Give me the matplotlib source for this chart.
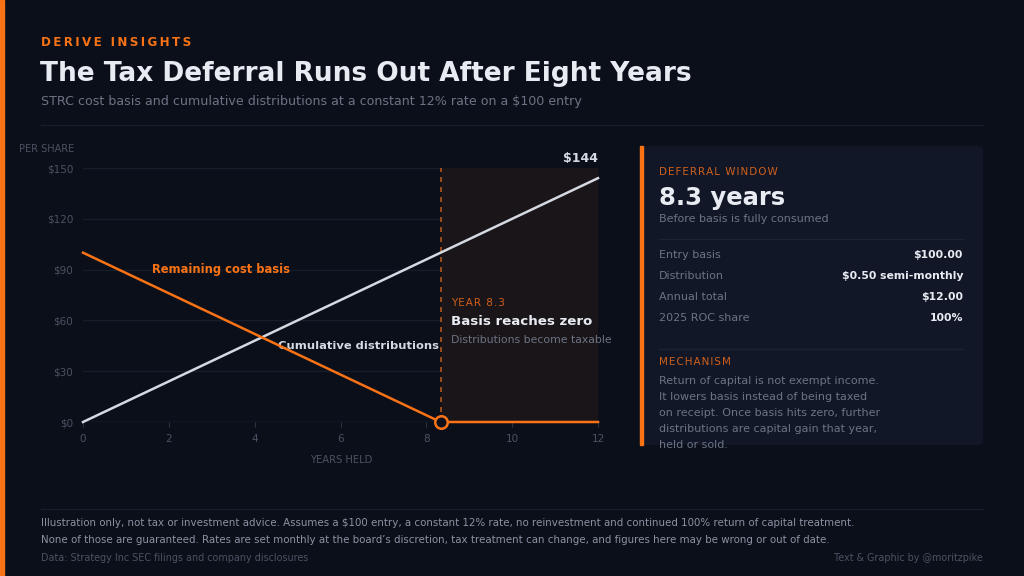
import matplotlib.pyplot as plt
from matplotlib.patches import FancyBboxPatch, Rectangle

plt.rcParams['font.family'] = ['DejaVu Sans']

# data
years = [0, 25 / 3, 12]
basis = [100, 0, 0]
dist_years = [0, 12]
distributions = [0, 144]
zero_year = 25 / 3
x_ticks = [0, 2, 4, 6, 8, 10, 12]
y_ticks = [0, 30, 60, 90, 120, 150]
y_labels = ['$0', '$30', '$60', '$90', '$120', '$150']

stat_labels = ['Entry basis', 'Distribution', 'Annual total', '2025 ROC share']
stat_values = ['$100.00', '$0.50 semi-monthly', '$12.00', '100%']
mechanism = ['Return of capital is not exempt income.',
             'It lowers basis instead of being taxed',
             'on receipt. Once basis hits zero, further',
             'distributions are capital gain that year,',
             'held or sold.']

BG = '#0b0f19'
PANEL = '#111726'
ORANGE = '#f97316'
LIGHT = '#d5d9e2'
WHITE = '#e8ebf2'
GREY = '#6b7385'
DIM = '#4a5263'
GRID = '#171d2b'

W, H = 1024, 576
fig = plt.figure(figsize=(W / 100, H / 100), dpi=100, facecolor=BG)


def fx(px):
    return px / W


def fy(py):
    return 1 - py / H


def spaced(s, sep='\u2009'):
    return sep.join(s)


# left accent strip
fig.patches.append(Rectangle((0, 0), fx(4), 1, transform=fig.transFigure,
                             color=ORANGE, zorder=5))

# header
fig.text(fx(41), fy(42), spaced('DERIVE INSIGHTS'), color=ORANGE,
         fontsize=8.6, fontweight='bold', va='center')
fig.text(fx(40), fy(74), 'The Tax Deferral Runs Out After Eight Years',
         color=WHITE, fontsize=19, fontweight='bold', va='center')
fig.text(fx(41), fy(102), 'STRC cost basis and cumulative distributions at a constant 12% rate on a $100 entry',
         color=GREY, fontsize=9.1, va='center')
fig.lines.append(plt.Line2D([fx(41), fx(983)], [fy(125), fy(125)],
                            transform=fig.transFigure, color=GRID, lw=1))

# chart
ax = fig.add_axes([fx(83), fy(422), fx(598 - 83), (422 - 168) / H])
ax.set_facecolor(BG)
ax.set_xlim(0, 12)
ax.set_ylim(0, 150)
for s in ax.spines.values():
    s.set_visible(False)
ax.set_yticks(y_ticks)
ax.set_yticklabels(y_labels)
ax.set_xticks(x_ticks)
ax.tick_params(axis='y', length=0, colors=DIM, labelsize=7.5, pad=7)
ax.tick_params(axis='x', length=3.5, color='#2a3140', colors=DIM, labelsize=7.5,
               direction='out', pad=5)
for v in y_ticks:
    ax.axhline(v, color=GRID, lw=1, zorder=0)
ax.axhline(0, color='#222938', lw=1, zorder=1)

ax.axvspan(zero_year, 12, ymin=0, ymax=1, color='#1a1518', zorder=0.5)
ax.axvline(zero_year, color='#b4561c', lw=1.2, ls=(0, (3, 3)), zorder=2)

ax.plot(dist_years, distributions, color=LIGHT, lw=1.8, zorder=3, clip_on=False)
ax.plot(years, basis, color=ORANGE, lw=1.8, zorder=4, clip_on=False)
ax.plot([zero_year], [0], 'o', ms=9, mfc=BG, mec=ORANGE, mew=1.8, zorder=5,
        clip_on=False)

ax.text(1.6, 89.8, 'Remaining cost basis', color=ORANGE, fontsize=8.3,
        fontweight='bold', va='center')
ax.text(8.3, 44.9, 'Cumulative distributions', color=LIGHT, fontsize=8.25,
        fontweight='bold', va='center', ha='right')
ax.text(12, 152, '$144', color=LIGHT, fontsize=9, fontweight='bold',
        ha='right', va='bottom')
ax.text(8.57, 70.3, spaced('YEAR 8.3', '\u200a'), color='#d0601c', fontsize=7.5,
        va='center')
ax.text(8.57, 59.6, 'Basis reaches zero', color=WHITE, fontsize=9.6,
        fontweight='bold', va='center')
ax.text(8.57, 48.4, 'Distributions become taxable', color=GREY, fontsize=7.8,
        va='center')

fig.text(fx(19), fy(149), 'PER SHARE', color=DIM, fontsize=7, va='center')
fig.text(fx(341), fy(460), 'YEARS HELD', color=DIM, fontsize=7.2, va='center',
         ha='center')

# side panel
fig.patches.append(FancyBboxPatch((fx(640), fy(445)), fx(983 - 640), (445 - 146) / H,
                                  boxstyle='round,pad=0,rounding_size=0.006',
                                  transform=fig.transFigure, fc=PANEL, ec='none'))
fig.patches.append(Rectangle((fx(640), fy(445)), fx(3), (445 - 146) / H,
                             transform=fig.transFigure, color=ORANGE, zorder=3))
px = fx(659)
fig.text(px, fy(172), spaced('DEFERRAL WINDOW', '\u200a'), color='#d0601c',
         fontsize=7.5, va='center')
fig.text(px, fy(198), '8.3 years', color=WHITE, fontsize=17.5, fontweight='bold',
         va='center')
fig.text(px, fy(219), 'Before basis is fully consumed', color=GREY, fontsize=8,
         va='center')
fig.lines.append(plt.Line2D([px, fx(963)], [fy(239), fy(239)],
                            transform=fig.transFigure, color='#1c2332', lw=1))
for i, (lab, val) in enumerate(zip(stat_labels, stat_values)):
    y = fy(255 + 21 * i)
    fig.text(px, y, lab, color=GREY, fontsize=8, va='center')
    fig.text(fx(963), y, val, color=WHITE, fontsize=7.8, fontweight='bold',
             va='center', ha='right')
fig.lines.append(plt.Line2D([px, fx(963)], [fy(349), fy(349)],
                            transform=fig.transFigure, color='#1c2332', lw=1))
fig.text(px, fy(362), spaced('MECHANISM', '\u200a'), color='#d0601c', fontsize=7.5,
         va='center')
for i, line in enumerate(mechanism):
    fig.text(px, fy(381 + 16 * i), line, color=GREY, fontsize=8, va='center')

# footer
fig.lines.append(plt.Line2D([fx(41), fx(983)], [fy(509), fy(509)],
                            transform=fig.transFigure, color=GRID, lw=1))
fig.text(fx(41), fy(523), 'Illustration only, not tax or investment advice. Assumes a $100 entry, '
         'a constant 12% rate, no reinvestment and continued 100% return of capital treatment.',
         color='#8a92a3', fontsize=7.35, va='center')
fig.text(fx(41), fy(540), 'None of those are guaranteed. Rates are set monthly at the board\u2019s '
         'discretion, tax treatment can change, and figures here may be wrong or out of date.',
         color='#8a92a3', fontsize=7.35, va='center')
fig.text(fx(41), fy(558), 'Data: Strategy Inc SEC filings and company disclosures',
         color=DIM, fontsize=6.9, va='center')
fig.text(fx(983), fy(558), 'Text & Graphic by @moritzpike', color=DIM, fontsize=6.9,
         va='center', ha='right')

fig.savefig('out.png', dpi=100, facecolor=BG)
